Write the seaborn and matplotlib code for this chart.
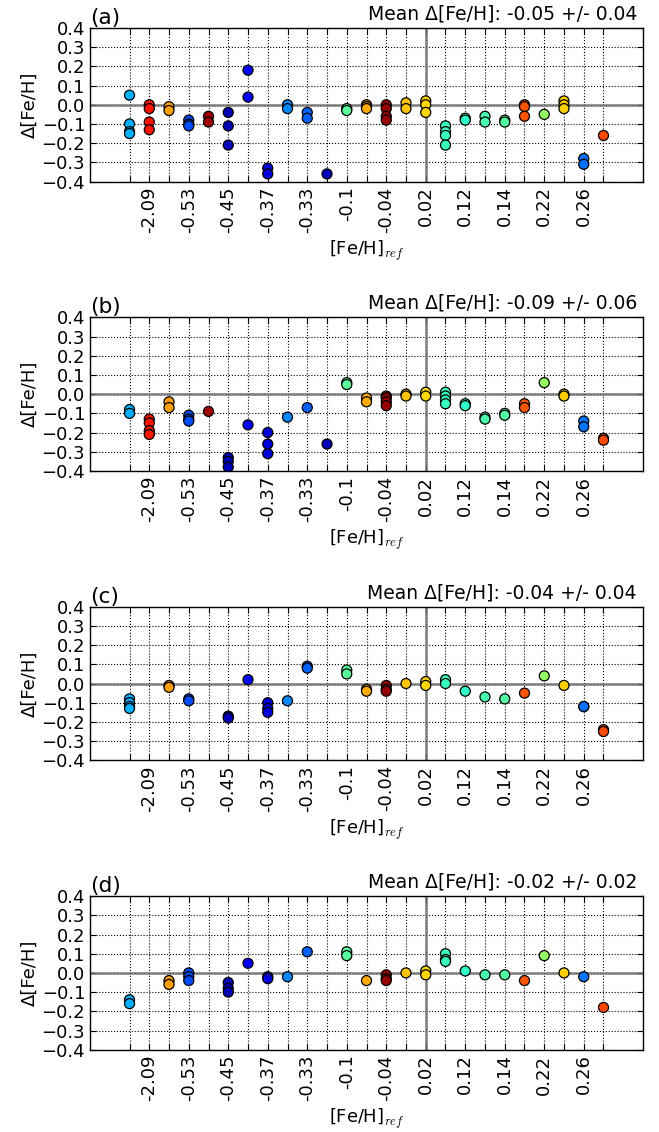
import numpy as np
import matplotlib
matplotlib.use("Agg")
import matplotlib.pyplot as plt
import pandas as pd
import seaborn as sns

# star index along x (sorted by reference [Fe/H]); labels only on every other star
tick_labels = ['', '-2.09', '', '-0.53', '', '-0.45', '', '-0.37', '', '-0.33', '', '-0.1', '',
               '-0.04', '', '0.02', '', '0.12', '', '0.14', '', '0.22', '', '0.26', '']

# colour value of each star (jet colour map)
star_cval = [0.30, 0.89, 0.74, 0.20, 0.97, 0.05, 0.12, 0.08, 0.26, 0.22, 0.05, 0.46, 0.73,
             0.98, 0.70, 0.68, 0.42, 0.41, 0.44, 0.45, 0.82, 0.53, 0.69, 0.24, 0.83]

# Delta [Fe/H] per star, one list per star
dfeh_a = [[0.05, -0.10, -0.14, -0.15], [0.0, -0.02, -0.09, -0.13], [-0.01, -0.03],
          [-0.08, -0.10, -0.11], [-0.06, -0.09], [-0.04, -0.11, -0.21], [0.18, 0.04],
          [-0.33, -0.36], [0.0, -0.02], [-0.04, -0.07], [-0.36], [-0.02, -0.03],
          [0.0, -0.01, -0.02], [0.0, -0.02, -0.06, -0.08], [0.01, -0.02],
          [0.02, 0.0, -0.04], [-0.11, -0.14, -0.16, -0.21], [-0.07, -0.08], [-0.06, -0.09],
          [-0.08, -0.09], [0.0, -0.01, -0.06], [-0.05], [0.02, 0.0, -0.02],
          [-0.28, -0.31], [-0.16]]
dfeh_b = [[-0.08, -0.10], [-0.13, -0.15, -0.19, -0.21], [-0.04, -0.07],
          [-0.11, -0.13, -0.14], [-0.09], [-0.33, -0.35, -0.38], [-0.16],
          [-0.20, -0.26, -0.31], [-0.12], [-0.07], [-0.26], [0.06, 0.05],
          [-0.02, -0.04], [-0.01, -0.02, -0.04, -0.06], [0.0, -0.01], [0.01, -0.01],
          [0.01, -0.01, -0.03, -0.05], [-0.05, -0.06], [-0.12, -0.13], [-0.10, -0.11],
          [-0.05, -0.07], [0.06], [0.0, -0.01], [-0.14, -0.17], [-0.23, -0.24]]
dfeh_c = [[-0.08, -0.10, -0.12, -0.13], [], [-0.01, -0.02], [-0.08, -0.09], [],
          [-0.17, -0.18], [0.02], [-0.10, -0.13, -0.15], [-0.09], [0.09, 0.08], [],
          [0.07, 0.05], [-0.03, -0.04], [-0.01, -0.03, -0.04], [0.0], [0.01, -0.01],
          [0.02, 0.0], [-0.04], [-0.07], [-0.08], [-0.05], [0.04], [-0.01],
          [-0.12, -0.12], [-0.24, -0.25]]
dfeh_d = [[-0.14, -0.16], [], [-0.04, -0.06], [0.0, -0.02, -0.04], [],
          [-0.05, -0.08, -0.10], [0.05], [-0.02, -0.03], [-0.02], [0.11], [],
          [0.11, 0.09], [-0.04], [-0.01, -0.03, -0.04], [0.0], [0.01, -0.01],
          [0.10, 0.07, 0.06], [0.01], [-0.01], [-0.01], [-0.04], [0.09], [0.0],
          [-0.02], [-0.18]]

panel_tags = ['(a)', '(b)', '(c)', '(d)']
panel_means = ['Mean \u0394[Fe/H]: -0.05 +/- 0.04', 'Mean \u0394[Fe/H]: -0.09 +/- 0.06',
               'Mean \u0394[Fe/H]: -0.04 +/- 0.04', 'Mean \u0394[Fe/H]: -0.02 +/- 0.02']
solar_star = 15


def to_frame(dfeh):
    rows = []
    for i, vals in enumerate(dfeh):
        for v in vals:
            rows.append({'star': i, 'dfeh': v, 'cval': star_cval[i]})
    return pd.DataFrame(rows)


plt.rcParams.update({
    'font.family': ['DejaVu Sans'],
    'font.size': 13,
    'mathtext.fontset': 'cm',
    'xtick.direction': 'in',
    'ytick.direction': 'in',
    'xtick.top': True,
    'ytick.right': True,
    'xtick.major.size': 4,
    'ytick.major.size': 4,
    'axes.edgecolor': 'black',
    'axes.linewidth': 1.0,
})

jet = plt.get_cmap('jet')
yticks = np.round(np.arange(-0.4, 0.41, 0.1), 1)

fig, axes = plt.subplots(4, 1, figsize=(6.59, 11.32), dpi=100)
fig.subplots_adjust(left=0.1366, right=0.9757, top=0.9753, bottom=0.0727, hspace=0.884)

for ax, dfeh, tag, mean in zip(axes, [dfeh_a, dfeh_b, dfeh_c, dfeh_d], panel_tags, panel_means):
    df = to_frame(dfeh)
    ax.axhline(0, color='0.45', lw=2, alpha=0.8, zorder=1)
    ax.axvline(solar_star, color='0.45', lw=2, alpha=0.8, zorder=1)
    sns.scatterplot(data=df, x='star', y='dfeh', hue='cval', palette=jet, hue_norm=(0, 1),
                    s=52, edgecolor='black', linewidth=0.9, legend=False, ax=ax, zorder=3)
    ax.set_xlim(-2, 26)
    ax.set_ylim(-0.4, 0.4)
    ax.set_xticks(range(len(tick_labels)))
    ax.set_xticklabels(tick_labels, rotation=90)
    ax.set_yticks(yticks)
    ax.set_yticklabels([('%.1f' % v).replace('-', '\u2212') if v != 0 else '0.0' for v in yticks])
    ax.grid(True, color='black', linestyle=':', linewidth=0.8)
    ax.set_axisbelow(True)
    ax.set_xlabel('[Fe/H]$_{ref}$')
    ax.set_ylabel('\u0394[Fe/H]', labelpad=2)
    ax.set_title(tag, loc='left', pad=3)
    ax.text(0.989, 1.03, mean, transform=ax.transAxes, ha='right', va='bottom', fontsize=13.5)

fig.savefig('out.png', dpi=100)
